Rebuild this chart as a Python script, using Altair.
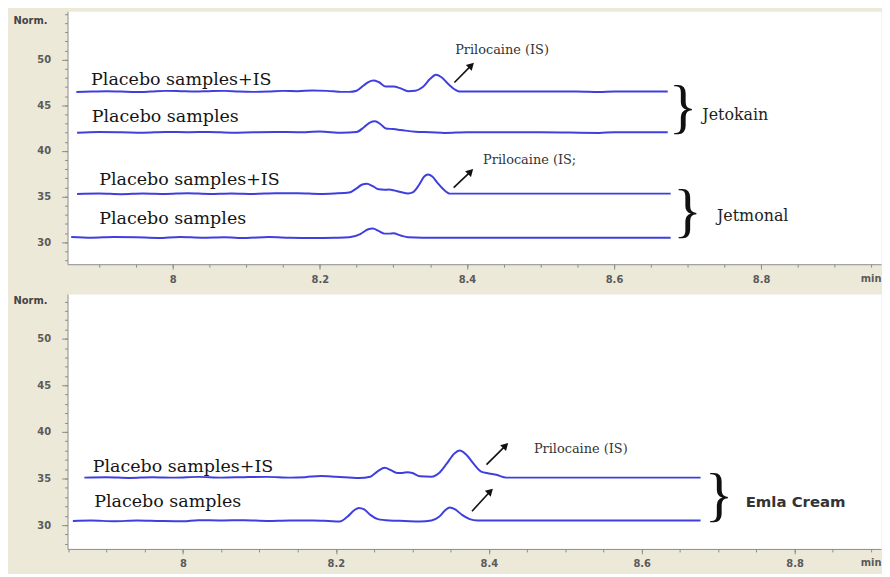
import altair as alt
import pandas as pd

# ---------------- TOP PANEL (Jetokain / Jetmonal) ----------------
jk_is_t = [7.869, 7.89, 7.91, 7.93, 7.95, 7.97, 7.99, 8.01, 8.03, 8.05, 8.07, 8.09, 8.11, 8.13, 8.15, 8.17, 8.19, 8.21, 8.23, 8.24, 8.25, 8.26, 8.266, 8.273, 8.28, 8.29, 8.30, 8.31, 8.32, 8.33, 8.34, 8.35, 8.358, 8.365, 8.375, 8.385, 8.39, 8.45, 8.50, 8.55, 8.58, 8.60, 8.673]
jk_is_v = [46.45, 46.5, 46.55, 46.5, 46.45, 46.5, 46.58, 46.55, 46.5, 46.55, 46.58, 46.5, 46.47, 46.5, 46.58, 46.55, 46.62, 46.58, 46.47, 46.47, 46.6, 47.2, 47.55, 47.72, 47.55, 47.05, 47.05, 46.85, 46.55, 46.6, 47.0, 47.9, 48.35, 48.1, 47.3, 46.65, 46.5, 46.5, 46.5, 46.5, 46.45, 46.5, 46.5]

jk_pl_t = [7.87, 7.90, 7.93, 7.96, 7.99, 8.02, 8.05, 8.08, 8.11, 8.14, 8.17, 8.20, 8.23, 8.25, 8.26, 8.268, 8.275, 8.283, 8.29, 8.30, 8.31, 8.33, 8.35, 8.37, 8.40, 8.50, 8.58, 8.60, 8.673]
jk_pl_v = [42.0, 42.08, 42.05, 42.0, 42.08, 42.05, 42.08, 42.0, 42.05, 42.08, 42.05, 42.12, 42.0, 42.08, 42.6, 43.1, 43.25, 42.9, 42.45, 42.4, 42.3, 42.1, 42.05, 41.97, 42.05, 42.05, 41.97, 42.05, 42.05]

jm_is_t = [7.87, 7.90, 7.93, 7.96, 7.99, 8.02, 8.05, 8.08, 8.11, 8.14, 8.17, 8.20, 8.22, 8.24, 8.25, 8.257, 8.264, 8.272, 8.28, 8.288, 8.294, 8.30, 8.31, 8.32, 8.327, 8.335, 8.342, 8.347, 8.353, 8.36, 8.368, 8.377, 8.40, 8.677]
jm_is_v = [35.3, 35.35, 35.27, 35.35, 35.3, 35.38, 35.3, 35.35, 35.3, 35.38, 35.38, 35.3, 35.35, 35.45, 35.9, 36.3, 36.42, 36.15, 35.8, 35.75, 35.78, 35.7, 35.5, 35.35, 35.5, 36.3, 37.2, 37.42, 37.2, 36.5, 35.8, 35.33, 35.33, 35.33]

jm_pl_t = [7.862, 7.89, 7.92, 7.95, 7.98, 8.01, 8.04, 8.07, 8.10, 8.13, 8.16, 8.19, 8.22, 8.24, 8.255, 8.265, 8.272, 8.28, 8.288, 8.295, 8.30, 8.31, 8.32, 8.34, 8.677]
jm_pl_v = [30.58, 30.5, 30.58, 30.55, 30.47, 30.58, 30.5, 30.55, 30.47, 30.58, 30.5, 30.47, 30.5, 30.55, 30.9, 31.4, 31.5, 31.25, 30.95, 30.95, 30.98, 30.75, 30.55, 30.5, 30.5]

top_sample_labels = ["Placebo samples+IS", "Placebo samples", "Placebo samples+IS", "Placebo samples"]
top_sample_x = [7.889, 7.890, 7.900, 7.900]
top_sample_y = [47.17, 43.15, 36.3, 31.96]

top_peak_labels = ["Prilocaine (IS)", "Prilocaine (IS;"]
top_peak_x = [8.384, 8.422]
top_peak_y = [50.65, 38.6]

top_arrow_x = [8.383, 8.382]
top_arrow_y = [47.5, 35.98]
top_arrow_x2 = [8.406, 8.405]
top_arrow_y2 = [49.37, 37.74]

top_brace_x = [8.694, 8.700]
top_brace_y = [44.64, 33.33]
top_group_labels = ["Jetokain", "Jetmonal"]
top_group_x = [8.720, 8.740]
top_group_y = [43.37, 32.28]

# ---------------- BOTTOM PANEL (Emla Cream) ----------------
em_is_t = [7.871, 7.90, 7.93, 7.96, 7.99, 8.02, 8.05, 8.08, 8.11, 8.14, 8.16, 8.18, 8.20, 8.23, 8.245, 8.255, 8.264, 8.272, 8.28, 8.287, 8.294, 8.30, 8.31, 8.325, 8.335, 8.345, 8.355, 8.362, 8.37, 8.38, 8.39, 8.40, 8.41, 8.423, 8.45, 8.677]
em_is_v = [35.1, 35.15, 35.07, 35.15, 35.1, 35.18, 35.1, 35.15, 35.18, 35.1, 35.15, 35.28, 35.2, 35.05, 35.2, 35.8, 36.15, 35.9, 35.6, 35.6, 35.68, 35.6, 35.25, 35.2, 35.6, 36.6, 37.7, 38.0, 37.6, 36.6, 35.75, 35.55, 35.4, 35.1, 35.1, 35.1]

em_pl_t = [7.856, 7.88, 7.91, 7.94, 7.97, 8.00, 8.02, 8.05, 8.08, 8.11, 8.14, 8.17, 8.19, 8.205, 8.215, 8.224, 8.23, 8.237, 8.245, 8.255, 8.27, 8.29, 8.31, 8.325, 8.335, 8.343, 8.349, 8.356, 8.365, 8.375, 8.385, 8.677]
em_pl_v = [30.45, 30.5, 30.42, 30.5, 30.45, 30.42, 30.53, 30.5, 30.53, 30.45, 30.5, 30.5, 30.45, 30.4, 30.9, 31.6, 31.85, 31.7, 31.1, 30.65, 30.5, 30.45, 30.4, 30.5, 30.9, 31.6, 31.9, 31.7, 31.1, 30.65, 30.5, 30.5]

bot_sample_labels = ["Placebo samples+IS", "Placebo samples"]
bot_sample_x = [7.882, 7.884]
bot_sample_y = [35.74, 31.9]

bot_peak_labels = ["Prilocaine (IS)"]
bot_peak_x = [8.459]
bot_peak_y = [37.77]

bot_arrow_x = [8.397, 8.378]
bot_arrow_y = [36.49, 31.49]
bot_arrow_x2 = [8.422, 8.402]
bot_arrow_y2 = [38.53, 33.64]

bot_brace_x = [8.701]
bot_brace_y = [33.12]
bot_group_labels = ["Emla Cream"]
bot_group_x = [8.736]
bot_group_y = [31.91]

# ---------------- axes ticks ----------------
x_major = [8.0, 8.2, 8.4, 8.6, 8.8]
y_major = [30, 35, 40, 45, 50]
x_minor_top = [7.9, 7.95, 8.0, 8.05, 8.1, 8.15, 8.2, 8.25, 8.3, 8.35, 8.4, 8.45, 8.5, 8.55, 8.6, 8.65, 8.7, 8.75, 8.8, 8.85, 8.9, 8.95]
x_minor_bot = [7.85, 7.9, 7.95, 8.0, 8.05, 8.1, 8.15, 8.2, 8.25, 8.3, 8.35, 8.4, 8.45, 8.5, 8.55, 8.6, 8.65, 8.7, 8.75, 8.8, 8.85, 8.9]
y_minor_top = list(range(28, 56))
y_minor_bot = list(range(28, 55))

LINE_COLOR = "#3F3FE0"
AXIS_GRAY = "#8c8c8c"
LABEL_GRAY = "#5a5a5a"
SERIF = "DejaVu Serif"
SANS = "DejaVu Sans"


def lines_frame(traces):
    rows = []
    for name, ts, vs in traces:
        for t, v in zip(ts, vs):
            rows.append({"trace": name, "t": t, "v": v})
    return pd.DataFrame(rows)


def panel(traces, sample, peak, arrows, braces, groups, group_font, xdom, ydom,
          xminor, yminor, width, height, norm_y):
    xs = alt.Scale(domain=xdom, nice=False, zero=False)
    ys = alt.Scale(domain=ydom, nice=False, zero=False)

    major_x = alt.Axis(values=x_major, format=".1~f", orient="bottom", grid=False,
                       domainColor=AXIS_GRAY, tickColor=AXIS_GRAY, tickSize=5,
                       labelPadding=5, labelFont=SANS, labelFontWeight="bold",
                       labelFontSize=10, labelColor=LABEL_GRAY,
                       title="min", titleX=width, titleY=14, titleAlign="right",
                       titleBaseline="middle", titleFont=SANS, titleFontWeight="bold",
                       titleFontSize=10, titleColor=LABEL_GRAY)
    major_y = alt.Axis(values=y_major, format="d", orient="left", grid=False,
                       domainColor=AXIS_GRAY, tickColor=AXIS_GRAY, tickSize=6,
                       labelPadding=11, labelFont=SANS, labelFontWeight="bold",
                       labelFontSize=10, labelColor=LABEL_GRAY,
                       title="Norm.", titleAngle=0, titleX=-55, titleY=norm_y,
                       titleAlign="left", titleBaseline="middle", titleFont=SANS,
                       titleFontWeight="bold", titleFontSize=10, titleColor="#444444")
    minor_x = alt.Axis(values=xminor, orient="bottom", grid=False, domain=False,
                       labels=False, tickColor=AXIS_GRAY, tickSize=3, title=None)
    minor_y = alt.Axis(values=yminor, orient="left", grid=False, domain=False,
                       labels=False, tickColor=AXIS_GRAY, tickSize=3, title=None)

    lines = alt.Chart(lines_frame(traces)).mark_line(
        interpolate="monotone", strokeWidth=2, color=LINE_COLOR
    ).encode(
        x=alt.X("t:Q", scale=xs, axis=major_x),
        y=alt.Y("v:Q", scale=ys, axis=major_y),
        detail="trace:N",
        order="t:Q",
    )

    s_df = pd.DataFrame({"label": sample[0], "x": sample[1], "y": sample[2]})
    sample_text = alt.Chart(s_df).mark_text(
        font=SERIF, fontSize=17.6, align="left", baseline="alphabetic", color="#151515"
    ).encode(
        x=alt.X("x:Q", scale=xs, axis=minor_x),
        y=alt.Y("y:Q", scale=ys, axis=minor_y),
        text="label:N",
    )

    p_df = pd.DataFrame({"label": peak[0], "x": peak[1], "y": peak[2]})
    peak_text = alt.Chart(p_df).mark_text(
        font=SERIF, fontSize=13, align="left", baseline="alphabetic", color="#333333"
    ).encode(
        x=alt.X("x:Q", scale=xs, axis=None),
        y=alt.Y("y:Q", scale=ys, axis=None),
        text="label:N",
    )

    a_df = pd.DataFrame({"x": arrows[0], "y": arrows[1], "x2": arrows[2], "y2": arrows[3]})
    shafts = alt.Chart(a_df).mark_rule(color="#111111", strokeWidth=1.6).encode(
        x=alt.X("x:Q", scale=xs, axis=None),
        y=alt.Y("y:Q", scale=ys, axis=None),
        x2="x2:Q",
        y2="y2:Q",
    )
    heads = alt.Chart(a_df).mark_point(
        shape="triangle-up", filled=True, angle=45, size=70, color="#111111", opacity=1
    ).encode(
        x=alt.X("x2:Q", scale=xs, axis=None),
        y=alt.Y("y2:Q", scale=ys, axis=None),
    )

    b_df = pd.DataFrame({"label": ["}"] * len(braces[0]), "x": braces[0], "y": braces[1]})
    brace_text = alt.Chart(b_df).mark_text(
        font="Liberation Serif", fontSize=60, align="center",
        baseline="middle", color="#111111"
    ).encode(
        x=alt.X("x:Q", scale=xs, axis=None),
        y=alt.Y("y:Q", scale=ys, axis=None),
        text="label:N",
    )

    g_df = pd.DataFrame({"label": groups[0], "x": groups[1], "y": groups[2]})
    group_text = alt.Chart(g_df).mark_text(
        align="left", baseline="alphabetic", **group_font
    ).encode(
        x=alt.X("x:Q", scale=xs, axis=None),
        y=alt.Y("y:Q", scale=ys, axis=None),
        text="label:N",
    )

    return alt.layer(
        lines, sample_text, peak_text, shafts, heads, brace_text, group_text
    ).resolve_axis(x="independent", y="independent").properties(width=width, height=height)


top = panel(
    [("jk_is", jk_is_t, jk_is_v), ("jk_pl", jk_pl_t, jk_pl_v),
     ("jm_is", jm_is_t, jm_is_v), ("jm_pl", jm_pl_t, jm_pl_v)],
    (top_sample_labels, top_sample_x, top_sample_y),
    (top_peak_labels, top_peak_x, top_peak_y),
    (top_arrow_x, top_arrow_y, top_arrow_x2, top_arrow_y2),
    (top_brace_x, top_brace_y),
    (top_group_labels, top_group_x, top_group_y),
    {"font": SERIF, "fontSize": 16, "color": "#222222"},
    [7.857, 8.963], [27.6, 55.3], x_minor_top, y_minor_top, 820, 255, 9,
)

bottom = panel(
    [("em_is", em_is_t, em_is_v), ("em_pl", em_pl_t, em_pl_v)],
    (bot_sample_labels, bot_sample_x, bot_sample_y),
    (bot_peak_labels, bot_peak_x, bot_peak_y),
    (bot_arrow_x, bot_arrow_y, bot_arrow_x2, bot_arrow_y2),
    (bot_brace_x, bot_brace_y),
    (bot_group_labels, bot_group_x, bot_group_y),
    {"font": SANS, "fontSize": 15, "fontWeight": "bold", "color": "#333333"},
    [7.849, 8.913], [27.45, 54.8], x_minor_bot, y_minor_bot, 820, 257, 7,
)

chart = alt.vconcat(top, bottom, spacing=30, bounds="flush").properties(
    background="#ECE9D8",
    padding={"left": 4, "top": 0, "right": 0, "bottom": 2},
).configure_view(fill="white", stroke="transparent")

chart.save("out.html", embed_options={"renderer": "svg", "actions": False})
